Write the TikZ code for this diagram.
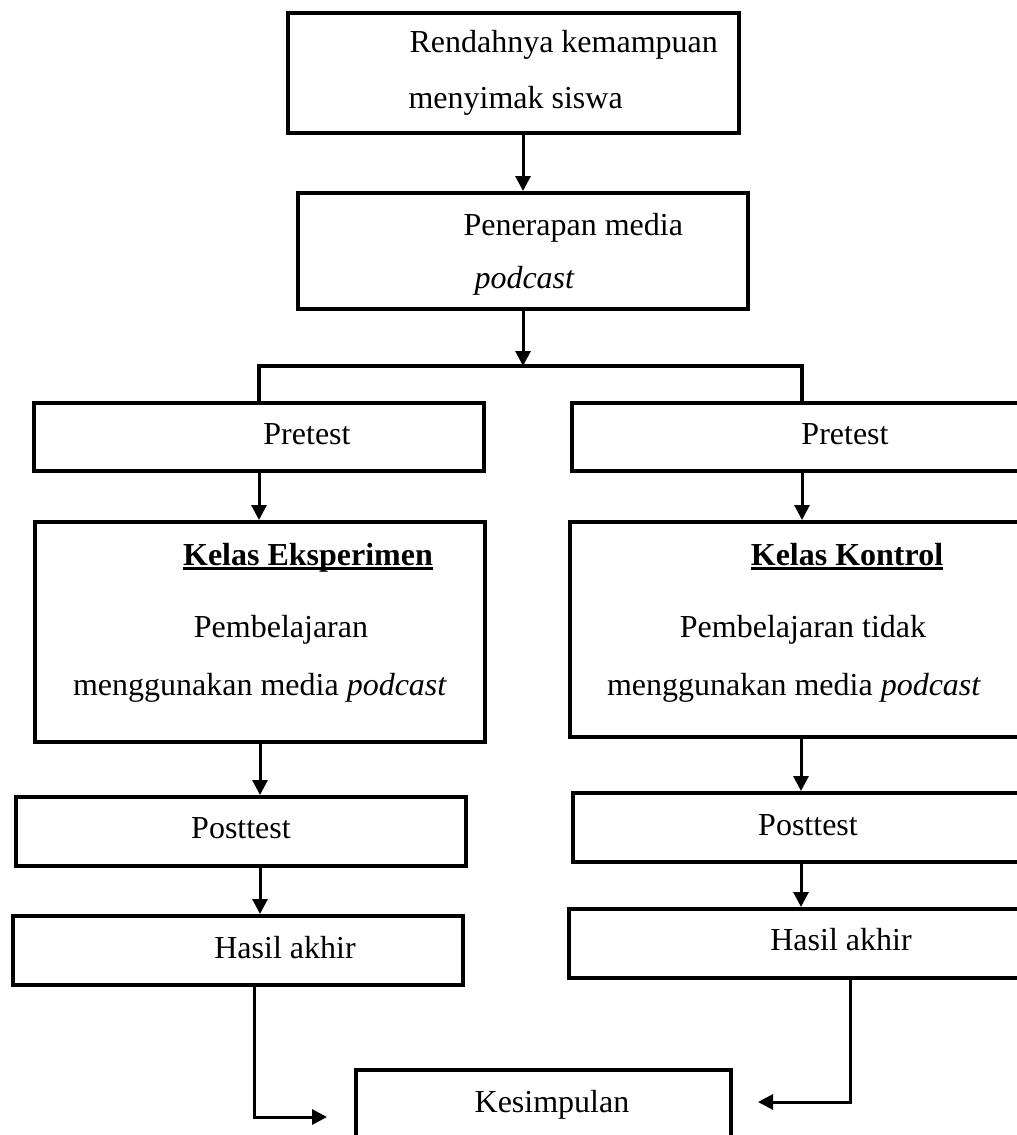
\documentclass[tikz,border=0pt]{standalone}
\usepackage{fontspec}
\setmainfont{Liberation Serif}
\usepackage{tikz}
\usetikzlibrary{arrows.meta,positioning,fit,calc}
\newcommand{\judulkelas}[1]{\setbox0\hbox{\bfseries #1}\rlap{\copy0}\rule[-2.5pt]{\wd0}{1.3pt}}
\tikzset{
  bagan/.style={
    x=0.5pt, y=-0.5pt,
    font=\fontsize{16}{19}\selectfont,
    >={Triangle[length=7.5pt,width=7.5pt]},
    line width=1.5pt
  },
  kotak/.style={                   % box of the flow
    draw, line width=2pt,
    inner sep=0pt
  },
  teks/.style={anchor=base, inner sep=0pt},
  teksl/.style={anchor=base west, inner sep=0pt},
  panah/.style={->, line width=1.5pt},
  garis/.style={line width=2pt}
}

\begin{document}
\begin{tikzpicture}[bagan]
\useasboundingbox (0,0) rectangle (1017,1135);
% Top boxes
\node[kotak, fit={(288,13)(739,133)}] (masalah) {};
\node[teksl] (masalah1) at (408,53) {Rendahnya kemampuan};
\node[teksl] (masalah2) at (407,108) {menyimak siswa};

\node[kotak, fit={(298,193)(748,309)}] (media) {};
\node[teksl] (media1) at (462,235) {Penerapan media};
\node[teksl] (media2) at (473,288) {\itshape podcast};

% Pretest boxes
\node[kotak, fit={(34,403)(484,471)}] (preL) {};
\node[teks] (preLt) at (307,444) {Pretest};
\node[kotak, fit={(572,403)(1032,471)}] (preR) {};
\node[teks] (preRt) at (845,444) {Pretest};

% Class boxes
\node[kotak, fit={(35,522)(485,742)}] (keL) {};
\node[teks] (keL1) at (308,565) {\judulkelas{Kelas Eksperimen}};
\node[teks] (keL2) at (281,637) {Pembelajaran};
\node[teks] (keL3) at (260,695) {menggunakan media \textit{podcast}};

\node[kotak, fit={(570,522)(1032,737)}] (kkR) {};
\node[teks] (kkR1) at (847,565) {\judulkelas{Kelas Kontrol}};
\node[teks] (kkR2) at (803,637) {Pembelajaran tidak};
\node[teks] (kkR3) at (794,695) {menggunakan media \textit{podcast}};

% Posttest and results
\node[kotak, fit={(16,797)(466,866)}] (postL) {};
\node[teks] (postLt) at (241,838) {Posttest};
\node[kotak, fit={(573,793)(1032,862)}] (postR) {};
\node[teks] (postRt) at (808,835) {Posttest};

\node[kotak, fit={(13,916)(463,985)}] (hasilL) {};
\node[teks] (hasilLt) at (285,958) {Hasil akhir};
\node[kotak, fit={(569,909)(1032,978)}] (hasilR) {};
\node[teks] (hasilRt) at (841,950) {Hasil akhir};

% Conclusion
\node[kotak, fit={(356,1070)(731,1170)}] (simpul) {};
\node[teks] (simpult) at (552,1112) {Kesimpulan};

% Connectors
\coordinate (cabangL) at (259,366);
\coordinate (cabangR) at (802,366);
\coordinate (belokL) at (254,1117);
\coordinate (belokR) at (850,1102);

\draw[panah] (masalah.south -| media.north) -- (media.north);
\draw[panah] (media.south) -- (media.south |- cabangL);
\draw[garis] (preL.north) -- (cabangL) -- (cabangR) -- (cabangR |- preR.north);
\draw[panah] (preL.south) -- (preL.south |- keL.north);
\draw[panah] (preR.south) -- (preR.south |- kkR.north);
\draw[panah] (keL.south) -- (keL.south |- postL.north);
\draw[panah] (kkR.south) -- (kkR.south |- postR.north);
\draw[panah] (keL.south |- postL.south) -- (keL.south |- hasilL.north);
\draw[panah] (kkR.south |- postR.south) -- (kkR.south |- hasilR.north);
\draw[panah, shorten >=13.5pt] (hasilL.south -| belokL) |- (simpul.west |- belokL);
\draw[panah, shorten >=12.5pt] (hasilR.south -| belokR) |- (simpul.east |- belokR);
\end{tikzpicture}
\end{document}
